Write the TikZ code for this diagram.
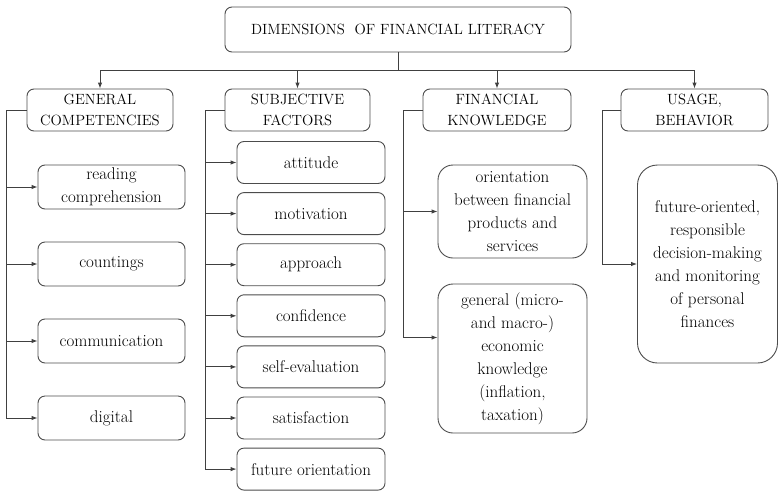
\documentclass[tikz,border=0pt]{standalone}
\usepackage{fontspec}
\usetikzlibrary{arrows.meta,calc}

\begin{document}
\begin{tikzpicture}[
        x=1pt, y=-1pt,
        box/.style={
            rectangle,
            rounded corners=7pt,
            draw=black!70,
            line width=0.9pt,
            align=center,
            text=black,
            font=\fontsize{17}{23}\selectfont,
            inner sep=1pt
        },
        head/.style={
            box,
            font=\fontsize{14.8}{21.5}\selectfont
        },
        link/.style={
            draw=black!75,
            line width=0.9pt,
            -{Latex[length=6pt,width=4.5pt]}
        }
    ]

        \useasboundingbox (0,0) rectangle (778,490);

        \node[head, minimum width=346pt, minimum height=45pt] (top) at (398,29.5)
            {DIMENSIONS\ \ OF FINANCIAL LITERACY};

        \node[head, minimum width=146pt, minimum height=42pt] (gc) at (100,110) {GENERAL\\COMPETENCIES};
        \node[head, minimum width=145pt, minimum height=42pt] (sf) at (297.5,110) {SUBJECTIVE\\FACTORS};
        \node[head, minimum width=148pt, minimum height=42pt] (fk) at (497,110) {FINANCIAL\\KNOWLEDGE};
        \node[head, minimum width=147pt, minimum height=42pt] (ub) at (694.5,110) {USAGE,\\BEHAVIOR};

        \foreach \txt [count=\i] in {{reading\\comprehension},countings,communication,digital} {
            \node[box, minimum width=147pt, minimum height=44pt] (gc\i) at (111.5,110+77*\i) {\txt};
        }

        \foreach \txt [count=\i] in {attitude,motivation,approach,confidence,self-evaluation,satisfaction,future orientation} {
            \node[box, minimum width=148pt, minimum height=42pt] (sf\i) at (311,111.4+51.1*\i) {\txt};
        }

        \node[box, rounded corners=15pt, minimum width=149pt, minimum height=93pt] (fk1) at (512.5,211.5)
            {orientation\\between financial\\products and\\services};
        \node[box, rounded corners=15pt, minimum width=149pt, minimum height=149pt] (fk2) at (512.5,358.5)
            {general (micro-\\and macro-)\\economic\\knowledge\\(inflation,\\taxation)};

        \node[box, rounded corners=20pt, minimum width=140pt, minimum height=198pt] (ub1) at (707.5,264)
            {future-oriented,\\responsible\\decision-making\\and monitoring\\of personal\\finances};

        % top level
        \foreach \n in {gc,sf,fk,ub} {
            \draw[link] (top.south) -- ++(0,18) -| (\n.north);
        }

        % branches
        \foreach \i in {1,...,4} {
            \draw[link] (gc.west) -- ++(-20,0) |- (gc\i.west);
        }
        \foreach \i in {1,...,7} {
            \draw[link] (sf.west) -- ++(-19,0) |- (sf\i.west);
        }
        \draw[link] (fk.west) -- ++(-19,0) |- (fk1.west);
        \draw[link] (fk.west) -- ++(-19,0) |- ($(fk2.north west)!0.36!(fk2.south west)$);
        \draw[link] (ub.west) -- ++(-18,0) |- (ub1.west);

    \end{tikzpicture}
\end{document}
